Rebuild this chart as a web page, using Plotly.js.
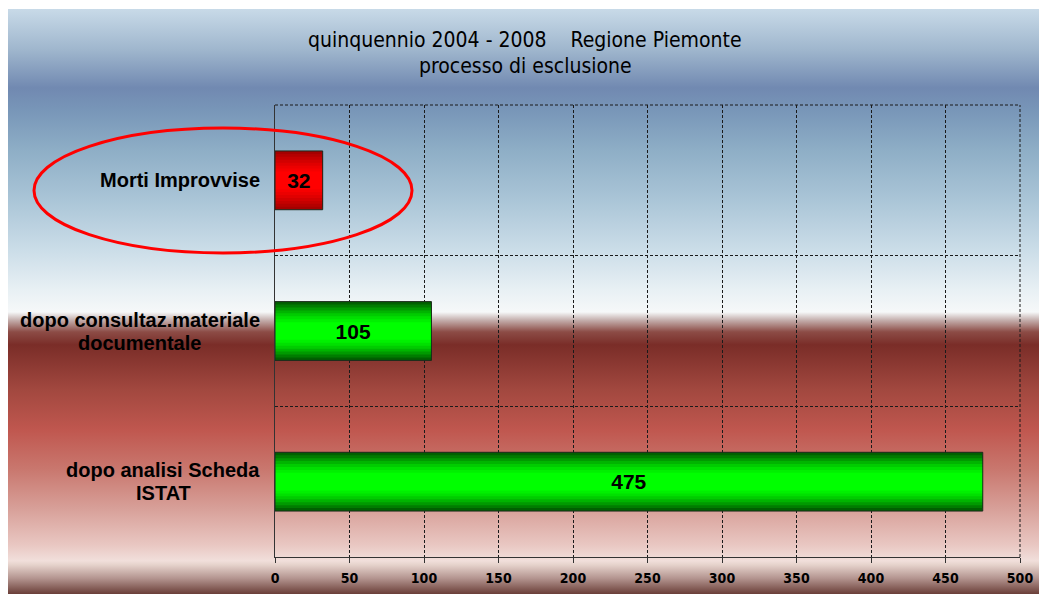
<!DOCTYPE html>
<html>
<head>
<meta charset="utf-8">
<script src="https://cdn.plot.ly/plotly-3.0.1.min.js"></script>
<style>
  html, body { margin: 0; padding: 0; background: #ffffff; }
  #wrap { position: relative; width: 1039px; height: 594px; overflow: hidden; background: #ffffff; }
  #bg {
    position: absolute; left: 8px; top: 9px; width: 1031px; height: 585px;
    background: linear-gradient(to bottom,
      #c8dae8 0%, #9fb6cd 7%, #7189b1 13.5%, #7896b8 17.3%, #8eaec6 24.1%,
      #aac5d7 32.6%, #cbdde8 41.2%, #e8f0f4 48%, #f6f8f9 51.8%, #c4aeac 53.2%,
      #8c4c46 55.2%, #7a2d28 57.4%, #a2483f 65.1%, #c0574f 72%, #c9786f 78.8%,
      #d8a19a 85.6%, #e9c7c2 91.6%, #f1dfdb 94.3%, #e6d3cc 95%, #b49590 97.3%, #6a3e38 100%);
  }
  #chart { position: absolute; left: 0; top: 0; width: 1039px; height: 594px; }
</style>
</head>
<body>
<div id="wrap">
  <div id="bg"></div>
  <div id="chart"></div>
</div>
<script>
// ---- data ----
const categories = ["dopo analisi Scheda<br>ISTAT", "dopo consultaz.materiale<br>documentale", "Morti Improvvise"];
const values = [475, 105, 32];
const highlightedCategory = "Morti Improvvise";
const titleLines = ["quinquennio 2004 - 2008\u00a0\u00a0\u00a0\u00a0Regione Piemonte", "processo di esclusione"];

// ---- styles ----
const barWidth = 0.39;
const layerFractions = [1, 0.9, 0.8, 0.7, 0.6, 0.5, 0.4, 0.3];
const greenShades = ['#006000', '#007c00', '#009a00', '#00b400', '#00cc00', '#00e000', '#00f000', '#00ff00'];
const redShades = ['#a40000', '#b40000', '#c40000', '#d20000', '#e00000', '#ec0000', '#f60000', '#ff0000'];
const boldFont = 'Liberation Sans, Arial, sans-serif';
const narrowFont = 'Liberation Sans Narrow, Arial Narrow, DejaVu Sans Condensed, sans-serif';
const labelSize = 20;

const traces = layerFractions.map((f, i) => ({
  type: 'bar',
  orientation: 'h',
  y: categories,
  x: values,
  width: barWidth * f,
  marker: {
    color: categories.map(c => c === highlightedCategory ? redShades[i] : greenShades[i]),
    line: { width: 0 }
  },
  hoverinfo: 'skip',
  showlegend: false
}));

// outline + value labels
traces.push({
  type: 'bar',
  orientation: 'h',
  y: categories,
  x: values,
  width: barWidth,
  marker: { color: 'rgba(0,0,0,0)', line: { color: '#1c2a1c', width: 1 } },
  text: values.map(String),
  textposition: 'inside',
  insidetextanchor: 'middle',
  textangle: 0,
  constraintext: 'none',
  textfont: { family: boldFont, size: 21, color: '#000000', weight: 'bold' },
  hoverinfo: 'skip',
  showlegend: false
});

// measure label widths so that multi-line labels are centred on each other
const ctx = document.createElement('canvas').getContext('2d');
ctx.font = 'bold ' + labelSize + 'px "Liberation Sans", Arial, sans-serif';

const annotations = [];
const labelLineHeight = 23;
const labelGap = 15;
categories.forEach(c => {
  const lines = c.split('<br>');
  const maxW = Math.max(...lines.map(l => ctx.measureText(l).width));
  lines.forEach((line, k) => {
    annotations.push({
      xref: 'paper', yref: 'y',
      x: 0, y: c,
      xanchor: 'center', yanchor: 'middle',
      xshift: -labelGap - maxW / 2,
      yshift: ((lines.length - 1) / 2 - k) * labelLineHeight,
      showarrow: false,
      text: line,
      font: { family: boldFont, size: labelSize, color: '#000000', weight: 'bold' }
    });
  });
});

const titleY = [1.1438, 1.0863];
titleLines.forEach((t, k) => {
  annotations.push({
    xref: 'paper', yref: 'paper',
    x: 0.3356, y: titleY[k],
    xanchor: 'center', yanchor: 'middle',
    showarrow: false,
    text: t,
    font: { family: narrowFont, size: 21, color: '#000000' }
  });
});

const dash = '3px,2px';

const layout = {
  width: 1039,
  height: 594,
  margin: { l: 275, r: 19, t: 105, b: 37 },
  paper_bgcolor: 'rgba(0,0,0,0)',
  plot_bgcolor: 'rgba(0,0,0,0)',
  barmode: 'overlay',
  xaxis: {
    range: [0, 500],
    dtick: 50,
    tick0: 0,
    showgrid: true,
    gridcolor: '#1a1a1a',
    gridwidth: 1,
    griddash: dash,
    zeroline: false,
    showline: true,
    linecolor: '#333333',
    linewidth: 1,
    ticks: 'outside',
    ticklen: 5,
    tickcolor: '#333333',
    ticklabelstandoff: 3,
    tickfont: { family: narrowFont, size: 14, color: '#000000', weight: 'bold' },
    fixedrange: true
  },
  yaxis: {
    type: 'category',
    categoryorder: 'array',
    categoryarray: categories,
    range: [-0.5, 2.5],
    tickson: 'boundaries',
    showgrid: true,
    gridcolor: '#1a1a1a',
    gridwidth: 1,
    griddash: dash,
    showticklabels: false,
    ticks: '',
    zeroline: false,
    showline: true,
    linecolor: '#333333',
    linewidth: 1,
    fixedrange: true
  },
  annotations: annotations,
  shapes: [
    { type: 'line', xref: 'paper', yref: 'paper', x0: 0, x1: 1, y0: 1, y1: 1,
      line: { color: '#1a1a1a', width: 1, dash: dash } },
    { type: 'line', xref: 'paper', yref: 'paper', x0: 1, x1: 1, y0: 0, y1: 1,
      line: { color: '#1a1a1a', width: 1, dash: dash } },
    { type: 'circle', xref: 'paper', yref: 'paper',
      x0: -0.3235, x1: 0.1839, y0: 0.6726, y1: 0.949,
      line: { color: '#ff0000', width: 3 }, fillcolor: 'rgba(0,0,0,0)', layer: 'above' }
  ]
};

Plotly.newPlot('chart', traces, layout, { staticPlot: true, displayModeBar: false });
</script>
</body>
</html>
